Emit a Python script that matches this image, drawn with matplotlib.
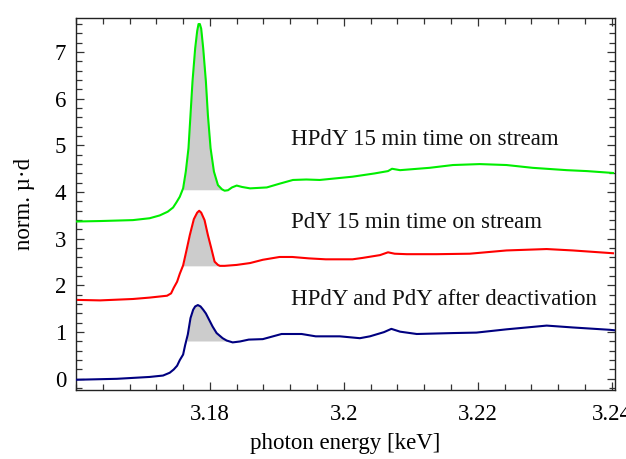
import numpy as np
import matplotlib
matplotlib.use("Agg")
import matplotlib.pyplot as plt
from matplotlib.ticker import MultipleLocator

plt.rcParams['font.family'] = ['Liberation Serif', 'DejaVu Serif']
plt.rcParams['mathtext.fontset'] = 'stix'

# ---- data ----
green_E = [3.1600, 3.1636, 3.1685, 3.1710, 3.1725, 3.1737, 3.1745, 3.1750, 3.1755, 3.1760,
           3.1764, 3.1768, 3.1771, 3.1774, 3.1778, 3.1781, 3.1783, 3.1785, 3.1787, 3.1790,
           3.1794, 3.1797, 3.1801, 3.1806, 3.1812, 3.1818, 3.1822, 3.1827, 3.1833, 3.1840,
           3.1848, 3.1860, 3.1885, 3.1904, 3.1924, 3.1944, 3.1964, 3.2013, 3.2046, 3.2066,
           3.2072, 3.2084, 3.2128, 3.2163, 3.2203, 3.2243, 3.2282, 3.2333, 3.2363, 3.2402]
green_y = [3.37, 3.38, 3.40, 3.44, 3.50, 3.58, 3.67, 3.78, 3.90, 4.08,
           4.44, 4.94, 5.65, 6.37, 7.08, 7.45, 7.60, 7.60, 7.50, 7.08,
           6.37, 5.65, 4.94, 4.44, 4.15, 4.06, 4.03, 4.04, 4.10, 4.14,
           4.11, 4.08, 4.10, 4.18, 4.26, 4.27, 4.26, 4.33, 4.40, 4.45,
           4.50, 4.47, 4.52, 4.58, 4.60, 4.58, 4.52, 4.47, 4.45, 4.41]

red_E = [3.1603, 3.1636, 3.1685, 3.1710, 3.1736, 3.1742, 3.1746, 3.1751, 3.1755, 3.1760,
         3.1765, 3.1770, 3.1776, 3.1781, 3.1784, 3.1787, 3.1792, 3.1797, 3.1802, 3.1807,
         3.1812, 3.1815, 3.1822, 3.1840, 3.1860, 3.1879, 3.1904, 3.1923, 3.1948, 3.1973,
         3.2013, 3.2028, 3.2054, 3.2066, 3.2076, 3.2094, 3.2139, 3.2188, 3.2243, 3.2303,
         3.2342, 3.2402]
red_y = [1.69, 1.68, 1.71, 1.74, 1.78, 1.83, 1.95, 2.08, 2.25, 2.43,
         2.75, 3.08, 3.42, 3.56, 3.60, 3.56, 3.40, 3.08, 2.80, 2.51,
         2.44, 2.42, 2.42, 2.44, 2.48, 2.55, 2.61, 2.61, 2.58, 2.56,
         2.56, 2.59, 2.65, 2.71, 2.68, 2.67, 2.67, 2.68, 2.75, 2.78,
         2.75, 2.69]

blue_E = [3.1601, 3.1661, 3.1710, 3.1730, 3.1740, 3.1746, 3.1751, 3.1755, 3.1760, 3.1763,
          3.1767, 3.1771, 3.1775, 3.1778, 3.1782, 3.1786, 3.1790, 3.1794, 3.1799, 3.1804,
          3.1810, 3.1819, 3.1825, 3.1834, 3.1845, 3.1858, 3.1879, 3.1907, 3.1937, 3.1958,
          3.1994, 3.2024, 3.2039, 3.2060, 3.2071, 3.2084, 3.2109, 3.2163, 3.2198, 3.2243,
          3.2303, 3.2342, 3.2397, 3.2404]
blue_y = [-0.02, 0.00, 0.04, 0.07, 0.13, 0.20, 0.28, 0.40, 0.52, 0.72,
          0.95, 1.30, 1.48, 1.55, 1.58, 1.55, 1.48, 1.40, 1.26, 1.12,
          0.98, 0.87, 0.82, 0.78, 0.80, 0.84, 0.85, 0.96, 0.96, 0.91,
          0.91, 0.87, 0.91, 1.00, 1.07, 1.01, 0.96, 0.98, 0.99, 1.06,
          1.14, 1.10, 1.05, 1.04]

# shaded white-line areas: (start energy, end energy, baseline)
shade_green = (3.1760, 3.1820, 4.05)
shade_red = (3.1760, 3.1815, 2.42)
shade_blue = (3.1766, 3.1826, 0.81)

labels = ["HPdY 15 min time on stream", "PdY 15 min time on stream",
          "HPdY and PdY after deactivation"]
label_x = [3.1921, 3.1921, 3.1921]
label_y = [5.12, 3.34, 1.69]

xticks = [3.18, 3.20, 3.22, 3.24]
xticklabels = ["3.18", "3.2", "3.22", "3.24"]
yticks = [0, 1, 2, 3, 4, 5, 6, 7]

FS = 16.5

fig = plt.figure(figsize=(6.26, 4.59), dpi=100)
ax = fig.add_axes([0.1214, 0.1503, 0.9824 - 0.1214, 0.9608 - 0.1503])

def shade(E, y, spec):
    lo, hi, base = spec
    E = np.asarray(E); y = np.asarray(y)
    m = (E >= lo) & (E <= hi)
    xs = np.concatenate([[lo], E[m], [hi]])
    ys = np.concatenate([[base], np.maximum(y[m], base), [base]])
    ax.fill_between(xs, base, ys, color='#cccccc', lw=0, zorder=1)

shade(green_E, green_y, shade_green)
shade(red_E, red_y, shade_red)
shade(blue_E, blue_y, shade_blue)

ax.plot(green_E, green_y, color='#00ee00', lw=1.5, zorder=3, solid_joinstyle='round')
ax.plot(red_E, red_y, color='#ff0000', lw=1.5, zorder=3, solid_joinstyle='round')
ax.plot(blue_E, blue_y, color='#000080', lw=1.5, zorder=3, solid_joinstyle='round')

for t, x, y in zip(labels, label_x, label_y):
    ax.text(x, y, t, ha='left', va='center', fontsize=FS, color='#111111')

ax.set_xlim(3.16, 3.2405)
ax.set_ylim(-0.24, 7.73)
ax.set_xticks(xticks)
ax.set_xticklabels(xticklabels)
ax.set_yticks(yticks)
ax.xaxis.set_minor_locator(MultipleLocator(0.004))
ax.yaxis.set_minor_locator(MultipleLocator(0.2))
ax.tick_params(which='both', direction='in', top=True, right=True,
               labelsize=FS, color='#333333', width=0.9)
ax.tick_params(which='major', length=6, pad=7)
ax.tick_params(axis='x', which='major', pad=10)
ax.tick_params(which='minor', length=4)
for s in ax.spines.values():
    s.set_color('#222222'); s.set_linewidth(1.0)

ax.set_xlabel("photon energy [keV]", fontsize=FS, labelpad=6)
ax.set_ylabel("norm. µ·d", fontsize=FS, labelpad=14)

fig.savefig("out.png", dpi=100)
